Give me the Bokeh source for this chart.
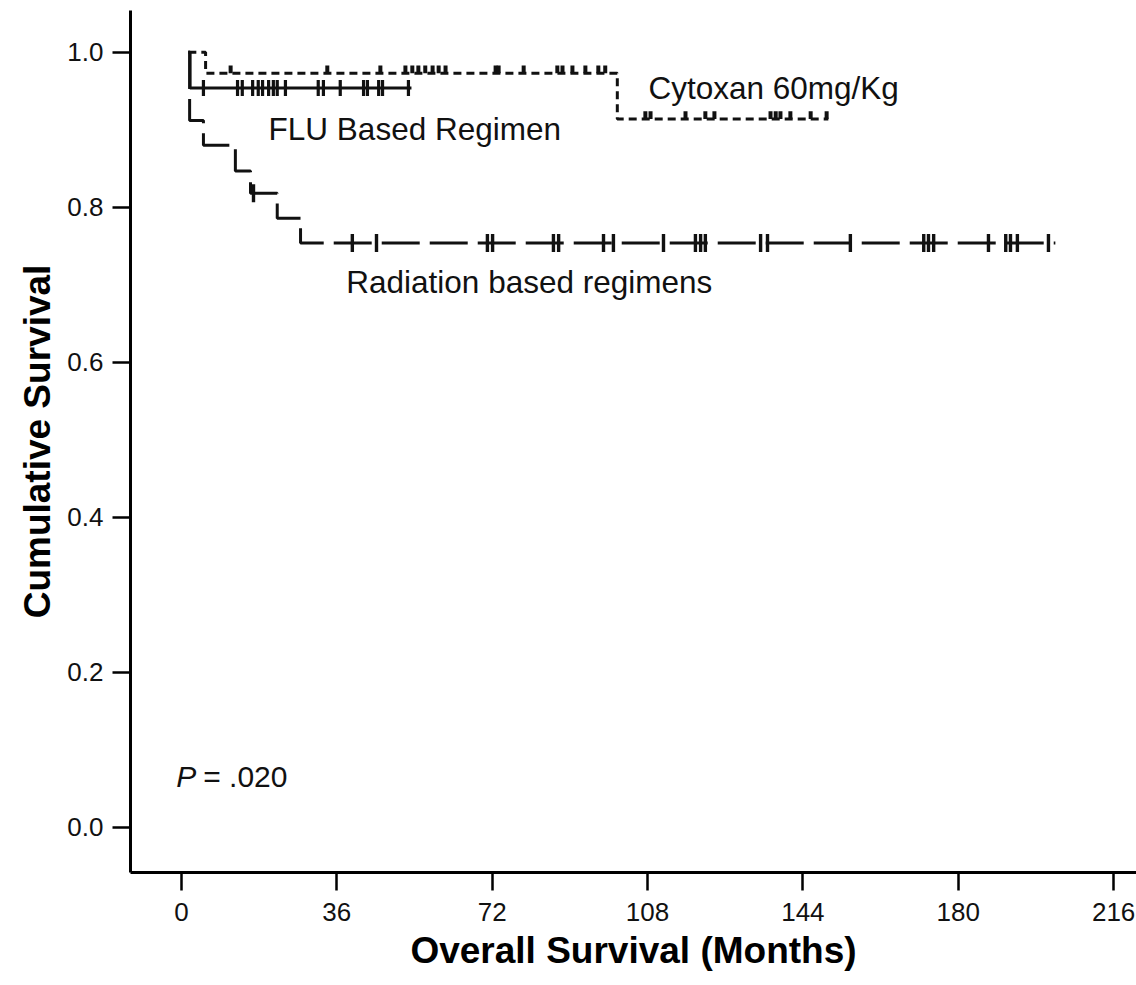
import numpy as np
from bokeh.plotting import figure
from bokeh.models import Range1d, FixedTicker, Label
from bokeh.embed import file_html
from bokeh.resources import INLINE

# ---------------- data ----------------
x_ticks = [0, 36, 72, 108, 144, 180, 216]
y_ticks = [0.0, 0.2, 0.4, 0.6, 0.8, 1.0]
y_tick_labels = ["0.0", "0.2", "0.4", "0.6", "0.8", "1.0"]

# FLU based regimen (solid)
flu_times = [1.6, 2.0]
flu_surv = [1.0, 0.954]
flu_end = 53.3
flu_censor = [5.1, 13.0, 14.1, 16.5, 17.8, 18.8, 20.2, 21.3, 22.2, 24.1,
              31.7, 32.9, 36.8, 42.2, 43.1, 45.7, 46.6, 52.6]

# Cytoxan 60mg/Kg (short dashes)
cyt_times = [1.6, 5.6, 101.0]
cyt_surv = [1.0, 0.973, 0.914]
cyt_end = 149.9
cyt_censor = [11.4, 33.8, 46.1, 51.9, 53.5, 54.9, 56.5, 58.2, 59.6, 61.2,
              72.8, 73.5, 79.3, 87.1, 88.3, 90.6, 93.6, 96.6, 98.2,
              107.5, 108.7, 116.8, 121.4, 123.5, 136.5, 137.7, 138.8,
              141.1, 145.8, 149.5]

# Radiation based regimens (long dashes)
rad_times = [1.6, 1.9, 5.1, 12.5, 16.0, 22.2, 27.6]
rad_surv = [1.0, 0.912, 0.880, 0.847, 0.818, 0.786, 0.754]
rad_end = 202.5
rad_censor = [16.7, 39.6, 45.2, 70.9, 72.1, 86.2, 87.4, 97.8, 100.1, 111.7,
              119.1, 120.3, 121.4, 134.2, 135.8, 155.0, 172.0, 173.1, 174.3,
              187.0, 191.0, 192.1, 193.7, 200.9]


def step_xy(times, surv, end):
    xs, ys = [times[0]], [surv[0]]
    for i in range(1, len(times)):
        xs += [times[i], times[i]]
        ys += [surv[i - 1], surv[i]]
    xs.append(end)
    ys.append(surv[-1])
    return xs, ys


def level_at(times, surv, ts):
    out = []
    for t in ts:
        idx = max(i for i, tt in enumerate(times) if tt <= t)
        out.append(surv[idx])
    return out


FONT = "Liberation Sans"
INK = "#111111"

p = figure(
    frame_width=1006, frame_height=862,
    min_border_left=130, min_border_right=0, min_border_top=10, min_border_bottom=100,
    x_range=Range1d(-11.8, 221.3), y_range=Range1d(-0.0585, 1.054),
    output_backend="svg", toolbar_location=None,
)
p.outline_line_color = None
p.xgrid.visible = False
p.ygrid.visible = False
p.background_fill_color = "white"
p.border_fill_color = "white"

# curves
for times, surv, end, dash in [
    (rad_times, rad_surv, rad_end, "38 10"),
    (cyt_times, cyt_surv, cyt_end, "8 5"),
    (flu_times, flu_surv, flu_end, "solid"),
]:
    xs, ys = step_xy(times, surv, end)
    p.line(xs, ys, line_color=INK, line_width=3, line_dash=dash)

# censor marks
p.scatter(flu_censor, level_at(flu_times, flu_surv, flu_censor), marker="dash",
          angle=np.pi / 2, size=16, line_color=INK, line_width=3.2)
p.scatter(rad_censor, level_at(rad_times, rad_surv, rad_censor), marker="dash",
          angle=np.pi / 2, size=18, line_color=INK, line_width=3.4)
cy_lv = level_at(cyt_times, cyt_surv, cyt_censor)
p.segment(x0=cyt_censor, y0=cy_lv, x1=cyt_censor, y1=[v + 0.010 for v in cy_lv],
          line_color=INK, line_width=4)

# annotations
for x, y, txt in [(20.2, 0.901, "FLU Based Regimen"),
                  (108.2, 0.954, "Cytoxan 60mg/Kg"),
                  (38.2, 0.704, "Radiation based regimens")]:
    p.add_layout(Label(x=x, y=y, text=txt, text_font=FONT, text_font_size="31.5px",
                       text_color=INK, text_baseline="alphabetic", text_align="left"))

p.add_layout(Label(x=-1.2, y=0.065, text="P", text_font=FONT, text_font_size="30px",
                   text_font_style="italic", text_color=INK, text_baseline="alphabetic"))
p.add_layout(Label(x=-1.2, y=0.065, x_offset=27, text="= .020", text_font=FONT,
                   text_font_size="30px", text_color=INK, text_baseline="alphabetic"))

# axes
for ax in (p.xaxis[0], p.yaxis[0]):
    ax.axis_line_width = 3
    ax.axis_line_color = "black"
    ax.major_tick_line_width = 2.5
    ax.major_tick_line_color = "black"
    ax.major_tick_out = 18
    ax.major_tick_in = 0
    ax.minor_tick_line_color = None
    ax.major_label_text_font = FONT
    ax.major_label_text_font_size = "26px"
    ax.major_label_text_color = INK
    ax.axis_label_text_font = FONT
    ax.axis_label_text_font_style = "bold"
    ax.axis_label_text_font_size = "37px"
    ax.axis_label_text_color = "black"

p.xaxis.ticker = FixedTicker(ticks=x_ticks)
p.yaxis.ticker = FixedTicker(ticks=y_ticks)
p.yaxis.major_label_overrides = {t: lab for t, lab in zip(y_ticks, y_tick_labels)}
p.xaxis.major_label_standoff = 12
p.yaxis.major_label_standoff = 9
p.xaxis.axis_label = "Overall Survival (Months)"
p.yaxis.axis_label = "Cumulative Survival"
p.xaxis.axis_label_standoff = 6
p.yaxis.axis_label_standoff = 6

open("out.html", "w").write(file_html(p, INLINE))
